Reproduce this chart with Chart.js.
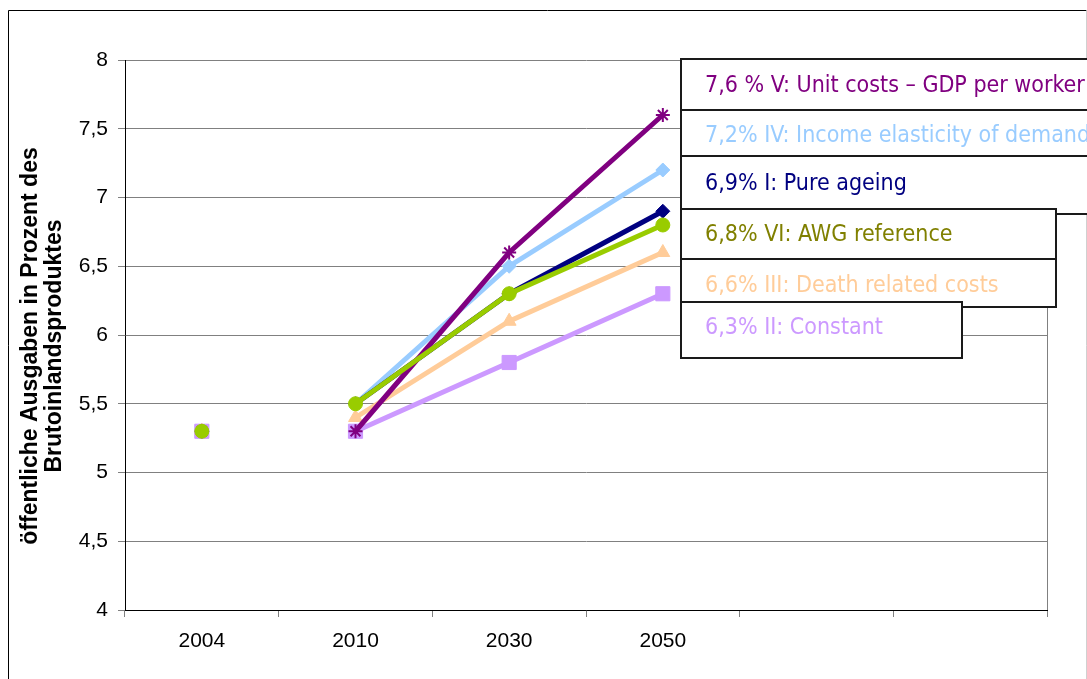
<!DOCTYPE html>
<html>
<head>
<meta charset="utf-8">
<script src="https://cdn.jsdelivr.net/npm/chart.js@4.4.1/dist/chart.umd.min.js"></script>
<style>
  html, body { margin: 0; padding: 0; background: #fff; }
  #wrap { position: relative; width: 1087px; height: 679px; }
</style>
</head>
<body>
<div id="wrap"><canvas id="c" width="1087" height="679"></canvas></div>
<script>
// ---- data ----
const categories = ['2004', '2010', '2030', '2050', '', ''];
const unitCosts     = [5.3, 5.3, 6.6, 7.6];   // V
const incomeElast   = [5.3, 5.5, 6.5, 7.2];   // IV
const pureAgeing    = [5.3, 5.5, 6.3, 6.9];   // I
const awgReference  = [5.3, 5.5, 6.3, 6.8];   // VI
const deathRelated  = [5.3, 5.4, 6.1, 6.6];   // III
const constantCost  = [5.3, 5.3, 5.8, 6.3];   // II
const seriesLabels = [
  '7,6 % V: Unit costs \u2013 GDP per worker',
  '7,2% IV: Income elasticity of demand',
  '6,9% I: Pure ageing',
  '6,8% VI: AWG reference',
  '6,6% III: Death related costs',
  '6,3% II: Constant'
];
const yTitle = ['öffentliche Ausgaben in Prozent des', 'Brutoinlandsproduktes'];

const hideFirst = ctx => ctx.p0DataIndex === 0 ? 'rgba(0,0,0,0)' : undefined;

function ds(label, data, color, style, radius, order, bw) {
  return {
    label, data, borderColor: color, backgroundColor: color,
    pointBackgroundColor: color, pointBorderColor: color,
    pointStyle: style, pointRadius: radius, pointBorderWidth: bw || 1,
    borderWidth: 5, tension: 0, order,
    segment: { borderColor: hideFirst }
  };
}

const textColors = ['#800080', '#99CCFF', '#000080', '#808000', '#FFCC99', '#CC99FF'];

const boxesPlugin = {
  id: 'boxes',
  afterDraw(chart) {
    const ctx = chart.ctx;
    const a = chart.chartArea;
    ctx.save();
    // plot right border
    ctx.strokeStyle = '#808080';
    ctx.lineWidth = 1;
    ctx.beginPath();
    ctx.moveTo(a.right + 0.5, a.top);
    ctx.lineTo(a.right + 0.5, a.bottom);
    ctx.stroke();
    // outer chart border
    ctx.strokeStyle = '#000';
    ctx.beginPath();
    ctx.moveTo(8.5, 700);
    ctx.lineTo(8.5, 10.5);
    ctx.lineTo(1086.5, 10.5);
    ctx.stroke();
    ctx.strokeStyle = '#d0d0d0';
    ctx.beginPath();
    ctx.moveTo(1086.5, 10.5);
    ctx.lineTo(1086.5, 700);
    ctx.stroke();
    // y-axis title (two lines, rotated)
    ctx.save();
    ctx.translate(0, 346);
    ctx.rotate(-Math.PI / 2);
    ctx.fillStyle = '#000';
    ctx.font = 'bold 23px "Liberation Sans", Arial, sans-serif';
    ctx.textAlign = 'center';
    ctx.textBaseline = 'middle';
    ctx.fillText(yTitle[0], 0, 31);
    ctx.fillText(yTitle[1], 0, 55);
    ctx.restore();
    // label boxes
    const boxes = [
      [681, 59, 420, 51, 86],
      [681, 110, 420, 46, 136],
      [681, 156, 420, 58, 184],
      [681, 209, 375, 50, 235],
      [681, 259, 375, 48, 286],
      [681, 302, 281, 56, 328]
    ];
    ctx.font = '23px "DejaVu Sans Condensed", "DejaVu Sans", sans-serif';
    ctx.textBaseline = 'middle';
    ctx.textAlign = 'left';
    boxes.forEach((b, i) => {
      ctx.fillStyle = '#fff';
      ctx.fillRect(b[0], b[1], b[2], b[3]);
      ctx.strokeStyle = '#1a1a1a';
      ctx.lineWidth = 2;
      ctx.strokeRect(b[0], b[1], b[2], b[3]);
      ctx.fillStyle = textColors[i];
      ctx.fillText(seriesLabels[i], 705, b[4]);
    });
    ctx.restore();
  }
};

new Chart(document.getElementById('c'), {
  type: 'line',
  data: {
    labels: categories,
    datasets: [
      ds(seriesLabels[3], awgReference, '#99CC00', 'circle', 7, 0),
      ds(seriesLabels[0], unitCosts, '#800080', 'star', 7, 1, 2),
      ds(seriesLabels[5], constantCost, '#CC99FF', 'rect', 10, 2),
      ds(seriesLabels[4], deathRelated, '#FFCC99', 'triangle', 8, 3),
      ds(seriesLabels[2], pureAgeing, '#000080', 'rectRot', 7, 4),
      ds(seriesLabels[1], incomeElast, '#99CCFF', 'rectRot', 7, 5)
    ]
  },
  options: {
    responsive: false,
    animation: false,
    layout: { padding: { left: 0, top: 60, right: 40, bottom: 0 } },
    plugins: { legend: { display: false }, tooltip: { enabled: false } },
    scales: {
      x: {
        offset: true,
        grid: { offset: true, drawOnChartArea: false, drawTicks: true, tickLength: 7, color: '#808080' },
        border: { color: '#000', width: 1 },
        ticks: { color: '#000', padding: 12, maxRotation: 0, font: { family: '"Liberation Sans", Arial, sans-serif', size: 21 } },
        afterFit(s) { s.height = 69; }
      },
      y: {
        min: 4, max: 8,
        grid: { color: '#808080', tickLength: 7, drawTicks: true },
        border: { color: '#000', width: 1 },
        ticks: {
          stepSize: 0.5, color: '#000', padding: 10,
          font: { family: '"Liberation Sans", Arial, sans-serif', size: 21 },
          callback: v => String(v).replace('.', ',')
        },
        title: { display: false },
        afterFit(s) { s.width = 125; }
      }
    }
  },
  plugins: [boxesPlugin]
});
</script>
</body>
</html>
